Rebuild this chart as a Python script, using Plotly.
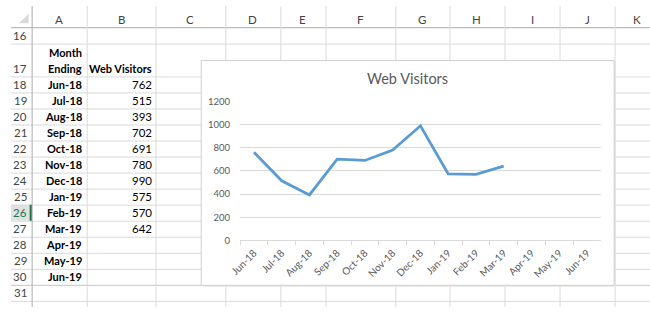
import plotly.graph_objects as go

# ---------------- data ----------------
months = ["Jun-18", "Jul-18", "Aug-18", "Sep-18", "Oct-18", "Nov-18", "Dec-18",
          "Jan-19", "Feb-19", "Mar-19", "Apr-19", "May-19", "Jun-19"]
visitors = [762, 515, 393, 702, 691, 780, 990, 575, 570, 642, None, None, None]
y_ticks = [0, 200, 400, 600, 800, 1000, 1200]
col_letters = ["A", "B", "C", "D", "E", "F", "G", "H", "I", "J", "K"]
row_numbers = list(range(16, 32))
chart_title = "Web Visitors"
header_a = ["Month", "Ending"]
header_b = "Web Visitors"

# ---------------- geometry (pixels) ----------------
W, H = 650, 312
FONT = "Lato, Calibri, Carlito, sans-serif"
col_edges = [21, 77, 147, 218, 274, 320, 391, 446, 502, 558, 614, 670]
hdr_bottom = 22
row_h = 16.62
row_top = {16: 22, 17: 39}
for i, r in enumerate(range(18, 33)):
    row_top[r] = 73 + i * row_h
row_bottom = {r: row_top[r + 1] for r in row_numbers}

def px(x):
    return x / W

def py(y):
    return 1 - y / H

shapes = []
annotations = []

# row 26 header highlight
shapes.append(dict(type="rect", xref="paper", yref="paper", layer="below",
                   x0=px(0), x1=px(21), y0=py(row_top[26]), y1=py(row_bottom[26]),
                   fillcolor="#E1E1E1", line=dict(width=0)))

# horizontal sheet grid lines
for r in row_numbers:
    yb = row_bottom[r] + 0.5
    color = "#C6C6C6" if r == 30 else "#DADADA"
    shapes.append(dict(type="line", xref="paper", yref="paper", layer="below",
                       x0=0, x1=1, y0=py(yb), y1=py(yb), line=dict(color=color, width=1)))
shapes.append(dict(type="line", xref="paper", yref="paper", layer="below",
                   x0=0, x1=1, y0=py(hdr_bottom + 0.5), y1=py(hdr_bottom + 0.5),
                   line=dict(color="#ABABAB", width=1)))
# vertical sheet grid lines
for i, xe in enumerate(col_edges):
    color = "#ABABAB" if i == 0 else "#DADADA"
    shapes.append(dict(type="line", xref="paper", yref="paper", layer="below",
                       x0=px(xe + 0.5), x1=px(xe + 0.5), y0=0, y1=1,
                       line=dict(color=color, width=1)))
# green active-row marker
shapes.append(dict(type="line", xref="paper", yref="paper", layer="below",
                   x0=px(20), x1=px(20), y0=py(row_top[26]), y1=py(row_bottom[26]),
                   line=dict(color="#217346", width=2)))
# select-all triangle
shapes.append(dict(type="path", xref="paper", yref="paper", layer="below",
                   path=f"M {px(18)} {py(8)} L {px(18)} {py(18)} L {px(8)} {py(18)} Z",
                   fillcolor="#DADADA", line=dict(width=0)))

# chart area (shadow + box)
shapes.append(dict(type="rect", xref="paper", yref="paper", layer="below",
                   x0=px(195), x1=px(615), y0=py(291), y1=py(58),
                   fillcolor="#E4E4E4", line=dict(width=0)))
shapes.append(dict(type="rect", xref="paper", yref="paper", layer="below",
                   x0=px(193.5), x1=px(613.5), y0=py(289.5), y1=py(56.5),
                   fillcolor="white", line=dict(color="#D0D0D0", width=1)))

# column letters
for i, letter in enumerate(col_letters):
    x0 = col_edges[i]
    x1 = col_edges[i + 1]
    xc = (x0 + x1) / 2 if letter != "K" else 637
    annotations.append(dict(text=letter, x=px(xc), y=py(14), xref="paper", yref="paper",
                            showarrow=False, xanchor="center", yanchor="middle",
                            font=dict(family=FONT, size=11.5, color="#444444")))
# row numbers
for r in row_numbers:
    yc = (row_top[r] + row_bottom[r]) / 2 if r != 17 else 65
    annotations.append(dict(text=str(r), x=px(9.5), y=py(yc), xref="paper", yref="paper",
                            showarrow=False, xanchor="center", yanchor="middle",
                            font=dict(family=FONT, size=11.5,
                                      color="#217346" if r == 26 else "#444444")))

CELL_FONT = dict(family=FONT, size=11, color="black")
# table header
annotations.append(dict(text=f"<b>{header_a[0]}</b>", x=px(74), y=py(48), xref="paper", yref="paper",
                        showarrow=False, xanchor="right", yanchor="middle", font=CELL_FONT))
annotations.append(dict(text=f"<b>{header_a[1]}</b>", x=px(74), y=py(65), xref="paper", yref="paper",
                        showarrow=False, xanchor="right", yanchor="middle", font=CELL_FONT))
annotations.append(dict(text=f"<b>{header_b}</b>", x=px(145), y=py(65), xref="paper", yref="paper",
                        showarrow=False, xanchor="right", yanchor="middle", font=CELL_FONT))
# table body
for i, (m, v) in enumerate(zip(months, visitors)):
    r = 18 + i
    yc = (row_top[r] + row_bottom[r]) / 2
    annotations.append(dict(text=f"<b>{m}</b>", x=px(74), y=py(yc), xref="paper", yref="paper",
                            showarrow=False, xanchor="right", yanchor="middle", font=CELL_FONT))
    if v is not None:
        annotations.append(dict(text=str(v), x=px(145), y=py(yc), xref="paper", yref="paper",
                                showarrow=False, xanchor="right", yanchor="middle",
                                font=dict(family=FONT, size=11.5, color="black")))

# chart title
annotations.append(dict(text=chart_title, x=px(403), y=py(75), xref="paper", yref="paper",
                        showarrow=False, xanchor="center", yanchor="middle",
                        font=dict(family=FONT, size=14.5, color="#595959")))

fig = go.Figure()
fig.add_trace(go.Scatter(x=months, y=visitors, mode="lines", connectgaps=False,
                         line=dict(color="#5B9BD5", width=2.8), hoverinfo="x+y"))

fig.update_layout(
    width=W, height=H, margin=dict(l=0, r=0, t=0, b=0),
    paper_bgcolor="white", plot_bgcolor="rgba(0,0,0,0)",
    showlegend=False,
    shapes=shapes, annotations=annotations,
    xaxis=dict(domain=[px(233), px(600)], type="category",
               categoryorder="array", categoryarray=months,
               range=[-0.5, len(months) - 0.5],
               showline=True, linecolor="#D9D9D9", linewidth=1,
               ticks="outside", tickson="boundaries", ticklen=4, tickcolor="#D9D9D9",
               tickangle=-45, ticklabelstandoff=2,
               tickfont=dict(family=FONT, size=10, color="#595959"),
               showgrid=False, zeroline=False, fixedrange=True),
    yaxis=dict(domain=[py(243), py(99)], range=[0, 1200], tickvals=y_ticks,
               showgrid=True, gridcolor="#D9D9D9", gridwidth=1, zeroline=False,
               showline=False, ticks="", ticklabelstandoff=9,
               tickfont=dict(family=FONT, size=9.5, color="#595959"), fixedrange=True),
)

fig.write_html("out.html")
